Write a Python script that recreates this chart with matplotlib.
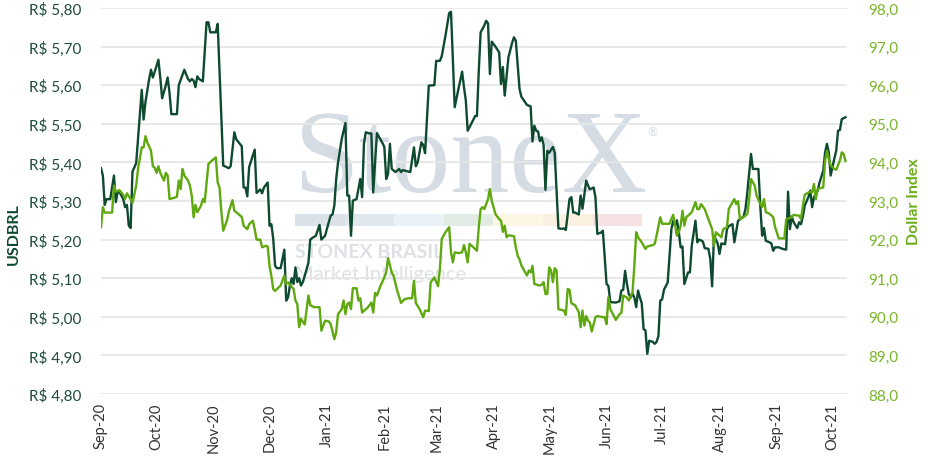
import matplotlib
matplotlib.use("Agg")
import matplotlib.pyplot as plt
import matplotlib.dates as mdates
from matplotlib.patches import Rectangle
from matplotlib.ticker import FuncFormatter, MultipleLocator
import pandas as pd

# USDBRL (left axis)
usd_dates = [
    '2020-09-01', '2020-09-02', '2020-09-03', '2020-09-04', '2020-09-06', '2020-09-08', '2020-09-09', '2020-09-10', '2020-09-11', '2020-09-13',
    '2020-09-14', '2020-09-15', '2020-09-16', '2020-09-17', '2020-09-18', '2020-09-20', '2020-09-23', '2020-09-24', '2020-09-25', '2020-09-27',
    '2020-09-28', '2020-09-29', '2020-10-01', '2020-10-02', '2020-10-03', '2020-10-04', '2020-10-06', '2020-10-07', '2020-10-08', '2020-10-09',
    '2020-10-12', '2020-10-13', '2020-10-16', '2020-10-18', '2020-10-19', '2020-10-20', '2020-10-21', '2020-10-22', '2020-10-23', '2020-10-24',
    '2020-10-26', '2020-10-28', '2020-10-29', '2020-10-30', '2020-11-02', '2020-11-03', '2020-11-06', '2020-11-09', '2020-11-10', '2020-11-12',
    '2020-11-13', '2020-11-16', '2020-11-17', '2020-11-18', '2020-11-19', '2020-11-20', '2020-11-23', '2020-11-24', '2020-11-26', '2020-11-27',
    '2020-11-28', '2020-11-30', '2020-12-01', '2020-12-02', '2020-12-03', '2020-12-04', '2020-12-05', '2020-12-07', '2020-12-09', '2020-12-10',
    '2020-12-11', '2020-12-12', '2020-12-13', '2020-12-14', '2020-12-15', '2020-12-16', '2020-12-17', '2020-12-18', '2020-12-19', '2020-12-20',
    '2020-12-22', '2020-12-23', '2020-12-24', '2020-12-26', '2020-12-28', '2020-12-29', '2020-12-31', '2021-01-01', '2021-01-03', '2021-01-04',
    '2021-01-05', '2021-01-06', '2021-01-07', '2021-01-09', '2021-01-11', '2021-01-12', '2021-01-13', '2021-01-14', '2021-01-15', '2021-01-17',
    '2021-01-19', '2021-01-20', '2021-01-21', '2021-01-22', '2021-01-24', '2021-01-25', '2021-01-26', '2021-01-27', '2021-01-28', '2021-01-31',
    '2021-02-01', '2021-02-02', '2021-02-03', '2021-02-04', '2021-02-05', '2021-02-07', '2021-02-09', '2021-02-10', '2021-02-11', '2021-02-15',
    '2021-02-17', '2021-02-18', '2021-02-19', '2021-02-21', '2021-02-22', '2021-02-23', '2021-02-25', '2021-02-28', '2021-03-01', '2021-03-03',
    '2021-03-04', '2021-03-06', '2021-03-08', '2021-03-09', '2021-03-11', '2021-03-13', '2021-03-15', '2021-03-16', '2021-03-17', '2021-03-18',
    '2021-03-21', '2021-03-22', '2021-03-23', '2021-03-24', '2021-03-25', '2021-03-27', '2021-03-28', '2021-03-29', '2021-03-30', '2021-03-31',
    '2021-04-02', '2021-04-04', '2021-04-05', '2021-04-06', '2021-04-07', '2021-04-09', '2021-04-11', '2021-04-12', '2021-04-13', '2021-04-15',
    '2021-04-16', '2021-04-19', '2021-04-21', '2021-04-22', '2021-04-23', '2021-04-24', '2021-04-25', '2021-04-26', '2021-04-27', '2021-04-28',
    '2021-04-29', '2021-04-30', '2021-05-01', '2021-05-03', '2021-05-04', '2021-05-06', '2021-05-08', '2021-05-09', '2021-05-10', '2021-05-12',
    '2021-05-13', '2021-05-14', '2021-05-15', '2021-05-17', '2021-05-18', '2021-05-19', '2021-05-21', '2021-05-22', '2021-05-23', '2021-05-25',
    '2021-05-26', '2021-05-27', '2021-05-29', '2021-05-30', '2021-06-01', '2021-06-02', '2021-06-03', '2021-06-06', '2021-06-08', '2021-06-09',
    '2021-06-10', '2021-06-11', '2021-06-12', '2021-06-13', '2021-06-14', '2021-06-15', '2021-06-16', '2021-06-17', '2021-06-18', '2021-06-19',
    '2021-06-20', '2021-06-21', '2021-06-22', '2021-06-23', '2021-06-24', '2021-06-26', '2021-06-27', '2021-06-28', '2021-06-29', '2021-06-30',
    '2021-07-01', '2021-07-02', '2021-07-04', '2021-07-06', '2021-07-07', '2021-07-08', '2021-07-09', '2021-07-10', '2021-07-11', '2021-07-12',
    '2021-07-13', '2021-07-15', '2021-07-16', '2021-07-17', '2021-07-19', '2021-07-20', '2021-07-21', '2021-07-22', '2021-07-23', '2021-07-24',
    '2021-07-26', '2021-07-27', '2021-07-28', '2021-07-29', '2021-07-31', '2021-08-01', '2021-08-02', '2021-08-04', '2021-08-05', '2021-08-06',
    '2021-08-08', '2021-08-09', '2021-08-11', '2021-08-12', '2021-08-14', '2021-08-15', '2021-08-16', '2021-08-18', '2021-08-19', '2021-08-22',
    '2021-08-23', '2021-08-24', '2021-08-25', '2021-08-26', '2021-08-28', '2021-08-29', '2021-08-30', '2021-08-31', '2021-09-02', '2021-09-04',
    '2021-09-06', '2021-09-07', '2021-09-08', '2021-09-09', '2021-09-10', '2021-09-12', '2021-09-13', '2021-09-14', '2021-09-15', '2021-09-16',
    '2021-09-18', '2021-09-19', '2021-09-20', '2021-09-21', '2021-09-23', '2021-09-24', '2021-09-26', '2021-09-27', '2021-09-28', '2021-09-29',
    '2021-09-30', '2021-10-02', '2021-10-03', '2021-10-04', '2021-10-05', '2021-10-06', '2021-10-08',
]
usd_vals = [
    5.385, 5.366, 5.290, 5.305, 5.305, 5.366, 5.297, 5.323, 5.323, 5.305,
    5.284, 5.290, 5.236, 5.230, 5.376, 5.398, 5.588, 5.511, 5.556, 5.616,
    5.640, 5.620, 5.650, 5.666, 5.620, 5.566, 5.600, 5.620, 5.580, 5.525,
    5.525, 5.600, 5.640, 5.616, 5.610, 5.616, 5.612, 5.595, 5.623, 5.616,
    5.610, 5.763, 5.763, 5.737, 5.737, 5.759, 5.392, 5.385, 5.390, 5.478,
    5.460, 5.442, 5.335, 5.335, 5.312, 5.388, 5.433, 5.321, 5.330, 5.320,
    5.335, 5.348, 5.236, 5.240, 5.202, 5.132, 5.126, 5.126, 5.174, 5.042,
    5.050, 5.081, 5.100, 5.085, 5.128, 5.090, 5.100, 5.081, 5.090, 5.106,
    5.140, 5.200, 5.204, 5.210, 5.238, 5.200, 5.210, 5.228, 5.262, 5.265,
    5.288, 5.357, 5.400, 5.461, 5.502, 5.314, 5.314, 5.210, 5.301, 5.305,
    5.357, 5.310, 5.450, 5.478, 5.475, 5.475, 5.322, 5.400, 5.476, 5.450,
    5.440, 5.357, 5.370, 5.448, 5.383, 5.375, 5.383, 5.375, 5.380, 5.375,
    5.439, 5.390, 5.400, 5.452, 5.445, 5.424, 5.599, 5.600, 5.663, 5.663,
    5.675, 5.728, 5.787, 5.790, 5.543, 5.590, 5.635, 5.595, 5.560, 5.482,
    5.510, 5.520, 5.520, 5.638, 5.737, 5.755, 5.767, 5.760, 5.629, 5.713,
    5.700, 5.685, 5.603, 5.647, 5.573, 5.672, 5.710, 5.724, 5.715, 5.590,
    5.570, 5.549, 5.545, 5.454, 5.495, 5.482, 5.480, 5.455, 5.465, 5.445,
    5.329, 5.430, 5.425, 5.440, 5.425, 5.229, 5.228, 5.229, 5.225, 5.305,
    5.310, 5.270, 5.270, 5.265, 5.314, 5.280, 5.353, 5.340, 5.330, 5.335,
    5.310, 5.215, 5.218, 5.223, 5.085, 5.080, 5.038, 5.037, 5.040, 5.068,
    5.070, 5.119, 5.085, 5.059, 5.050, 5.060, 5.050, 5.025, 5.068, 5.050,
    5.035, 4.968, 4.965, 4.904, 4.938, 4.935, 4.930, 4.935, 4.950, 5.042,
    5.045, 5.070, 5.089, 5.227, 5.249, 5.236, 5.250, 5.220, 5.180, 5.182,
    5.085, 5.115, 5.115, 5.184, 5.249, 5.193, 5.200, 5.198, 5.195, 5.178,
    5.176, 5.150, 5.079, 5.210, 5.190, 5.163, 5.190, 5.188, 5.227, 5.235,
    5.240, 5.193, 5.249, 5.252, 5.260, 5.279, 5.322, 5.422, 5.383, 5.383,
    5.288, 5.210, 5.230, 5.197, 5.193, 5.190, 5.171, 5.180, 5.180, 5.176,
    5.174, 5.324, 5.227, 5.260, 5.245, 5.230, 5.245, 5.240, 5.260, 5.288,
    5.310, 5.327, 5.284, 5.310, 5.327, 5.348, 5.378, 5.426, 5.448, 5.426,
    5.366, 5.410, 5.430, 5.482, 5.484, 5.512, 5.517,
]

# Dollar Index (right axis)
dxy_dates = [
    '2020-09-01', '2020-09-02', '2020-09-03', '2020-09-07', '2020-09-08', '2020-09-09', '2020-09-10', '2020-09-11', '2020-09-13', '2020-09-14',
    '2020-09-15', '2020-09-17', '2020-09-18', '2020-09-20', '2020-09-21', '2020-09-23', '2020-09-24', '2020-09-25', '2020-09-26', '2020-09-28',
    '2020-09-29', '2020-09-30', '2020-10-01', '2020-10-02', '2020-10-03', '2020-10-05', '2020-10-06', '2020-10-07', '2020-10-08', '2020-10-11',
    '2020-10-12', '2020-10-13', '2020-10-14', '2020-10-15', '2020-10-16', '2020-10-18', '2020-10-19', '2020-10-20', '2020-10-21', '2020-10-22',
    '2020-10-23', '2020-10-25', '2020-10-26', '2020-10-27', '2020-10-29', '2020-10-31', '2020-11-02', '2020-11-03', '2020-11-04', '2020-11-05',
    '2020-11-06', '2020-11-08', '2020-11-09', '2020-11-11', '2020-11-12', '2020-11-14', '2020-11-16', '2020-11-17', '2020-11-19', '2020-11-20',
    '2020-11-22', '2020-11-23', '2020-11-24', '2020-11-26', '2020-11-27', '2020-11-29', '2020-11-30', '2020-12-01', '2020-12-02', '2020-12-03',
    '2020-12-04', '2020-12-07', '2020-12-08', '2020-12-09', '2020-12-10', '2020-12-11', '2020-12-14', '2020-12-15', '2020-12-16', '2020-12-17',
    '2020-12-18', '2020-12-20', '2020-12-22', '2020-12-23', '2020-12-25', '2020-12-28', '2020-12-29', '2020-12-31', '2021-01-02', '2021-01-03',
    '2021-01-05', '2021-01-06', '2021-01-07', '2021-01-09', '2021-01-10', '2021-01-11', '2021-01-12', '2021-01-13', '2021-01-14', '2021-01-15',
    '2021-01-17', '2021-01-18', '2021-01-19', '2021-01-20', '2021-01-23', '2021-01-25', '2021-01-26', '2021-01-27', '2021-01-28', '2021-01-30',
    '2021-02-01', '2021-02-02', '2021-02-03', '2021-02-05', '2021-02-06', '2021-02-08', '2021-02-10', '2021-02-12', '2021-02-14', '2021-02-16',
    '2021-02-17', '2021-02-18', '2021-02-20', '2021-02-22', '2021-02-23', '2021-02-25', '2021-02-26', '2021-02-28', '2021-03-02', '2021-03-03',
    '2021-03-04', '2021-03-06', '2021-03-08', '2021-03-09', '2021-03-10', '2021-03-11', '2021-03-13', '2021-03-15', '2021-03-16', '2021-03-17',
    '2021-03-18', '2021-03-19', '2021-03-22', '2021-03-23', '2021-03-24', '2021-03-25', '2021-03-26', '2021-03-27', '2021-03-28', '2021-03-29',
    '2021-03-30', '2021-03-31', '2021-04-01', '2021-04-02', '2021-04-04', '2021-04-05', '2021-04-06', '2021-04-07', '2021-04-08', '2021-04-09',
    '2021-04-12', '2021-04-13', '2021-04-14', '2021-04-15', '2021-04-16', '2021-04-19', '2021-04-20', '2021-04-21', '2021-04-22', '2021-04-23',
    '2021-04-26', '2021-04-27', '2021-04-28', '2021-04-29', '2021-04-30', '2021-05-01', '2021-05-02', '2021-05-03', '2021-05-04', '2021-05-05',
    '2021-05-06', '2021-05-09', '2021-05-10', '2021-05-11', '2021-05-12', '2021-05-13', '2021-05-15', '2021-05-17', '2021-05-18', '2021-05-19',
    '2021-05-20', '2021-05-21', '2021-05-22', '2021-05-23', '2021-05-24', '2021-05-26', '2021-05-27', '2021-05-30', '2021-05-31', '2021-06-01',
    '2021-06-02', '2021-06-03', '2021-06-04', '2021-06-06', '2021-06-08', '2021-06-09', '2021-06-10', '2021-06-12', '2021-06-13', '2021-06-15',
    '2021-06-16', '2021-06-17', '2021-06-18', '2021-06-20', '2021-06-22', '2021-06-23', '2021-06-26', '2021-06-27', '2021-06-28', '2021-06-30',
    '2021-07-01', '2021-07-03', '2021-07-05', '2021-07-06', '2021-07-07', '2021-07-08', '2021-07-09', '2021-07-10', '2021-07-11', '2021-07-12',
    '2021-07-13', '2021-07-14', '2021-07-15', '2021-07-17', '2021-07-19', '2021-07-20', '2021-07-21', '2021-07-22', '2021-07-24', '2021-07-25',
    '2021-07-27', '2021-07-28', '2021-07-29', '2021-07-30', '2021-07-31', '2021-08-02', '2021-08-03', '2021-08-05', '2021-08-06', '2021-08-07',
    '2021-08-09', '2021-08-10', '2021-08-11', '2021-08-12', '2021-08-14', '2021-08-16', '2021-08-17', '2021-08-18', '2021-08-20', '2021-08-21',
    '2021-08-23', '2021-08-24', '2021-08-25', '2021-08-26', '2021-08-28', '2021-08-30', '2021-08-31', '2021-09-02', '2021-09-05', '2021-09-06',
    '2021-09-09', '2021-09-10', '2021-09-13', '2021-09-14', '2021-09-15', '2021-09-16', '2021-09-18', '2021-09-19', '2021-09-20', '2021-09-21',
    '2021-09-22', '2021-09-23', '2021-09-24', '2021-09-26', '2021-09-27', '2021-09-28', '2021-09-29', '2021-09-30', '2021-10-02', '2021-10-03',
    '2021-10-05', '2021-10-06', '2021-10-07', '2021-10-08',
]
dxy_vals = [
    92.32, 92.84, 92.70, 92.70, 93.40, 93.24, 93.26, 93.28, 93.16, 93.05,
    93.20, 93.05, 92.95, 93.40, 93.83, 94.39, 94.39, 94.68, 94.52, 94.30,
    93.90, 93.86, 93.73, 93.90, 93.73, 93.53, 93.73, 93.66, 93.05, 93.09,
    93.11, 93.53, 93.31, 93.83, 93.66, 93.53, 93.40, 93.14, 92.58, 92.90,
    92.71, 92.88, 93.05, 92.97, 93.96, 94.05, 94.13, 93.48, 93.35, 92.71,
    92.23, 92.49, 92.72, 93.02, 92.75, 92.67, 92.59, 92.36, 92.27, 92.40,
    92.49, 92.27, 92.00, 92.00, 91.80, 91.84, 91.82, 91.32, 91.06, 90.72,
    90.67, 90.81, 90.94, 91.07, 90.85, 90.89, 90.72, 90.42, 90.33, 89.73,
    89.95, 89.80, 90.55, 90.30, 90.25, 90.25, 89.64, 89.90, 89.88, 89.82,
    89.42, 89.60, 90.07, 90.20, 90.42, 90.07, 90.33, 90.37, 90.20, 90.74,
    90.74, 90.42, 90.48, 90.11, 90.24, 90.37, 90.11, 90.62, 90.55, 90.81,
    91.02, 91.15, 91.52, 91.15, 91.06, 90.67, 90.36, 90.46, 90.48, 90.48,
    90.93, 90.36, 90.20, 89.99, 90.16, 90.15, 90.89, 91.02, 90.79, 91.24,
    92.02, 92.19, 92.32, 91.67, 91.41, 91.67, 91.65, 91.67, 91.86, 91.67,
    91.41, 91.89, 91.76, 91.71, 92.32, 92.79, 92.84, 92.79, 92.92, 93.05,
    93.31, 93.00, 92.84, 92.66, 92.53, 92.49, 92.20, 92.36, 92.06, 92.11,
    92.09, 91.80, 91.58, 91.49, 91.33, 91.07, 91.20, 91.15, 91.32, 90.85,
    90.81, 90.83, 90.90, 90.59, 90.59, 91.28, 91.20, 90.90, 91.26, 91.20,
    90.20, 90.16, 90.05, 90.72, 90.70, 90.35, 90.30, 90.12, 89.73, 90.16,
    89.77, 90.02, 89.90, 89.85, 89.62, 89.99, 90.02, 89.99, 89.99, 89.81,
    90.51, 90.20, 90.11, 89.92, 90.07, 90.10, 90.55, 90.50, 90.42, 90.63,
    91.32, 92.19, 92.06, 91.93, 91.76, 91.82, 91.86, 91.89, 92.10, 92.58,
    92.41, 92.41, 92.41, 92.54, 92.64, 92.36, 92.10, 92.19, 92.36, 92.75,
    92.36, 92.58, 92.62, 92.71, 92.97, 92.79, 92.79, 92.92, 92.79, 92.66,
    92.40, 92.27, 91.84, 92.19, 92.15, 92.06, 92.27, 92.32, 92.79, 92.88,
    93.05, 92.92, 93.00, 92.53, 92.58, 92.66, 93.05, 93.57, 93.40, 93.14,
    92.92, 92.84, 93.05, 92.71, 92.67, 92.58, 92.32, 92.03, 92.03, 92.53,
    92.58, 92.64, 92.62, 92.53, 92.88, 93.16, 93.22, 93.24, 93.22, 93.44,
    93.05, 93.31, 93.33, 93.35, 94.04, 94.30, 94.09, 93.92, 93.83, 93.81,
    94.05, 94.26, 94.22, 94.04,
]

usd_color = '#0e4a30'
dxy_color = '#5fa80f'
font = 'Lato'

fig = plt.figure(figsize=(9.29, 4.60), dpi=100)
ax = fig.add_axes([101 / 929, 1 - 395 / 460, 746 / 929, 386 / 460])
ax2 = ax.twinx()

# watermark behind the lines
wm = '#d6dce4'
ax.text(0.258, 0.526, 'StoneX', transform=ax.transAxes, family='Liberation Serif',
        fontsize=85, color=wm, va='baseline', ha='left', zorder=0)
ax.text(0.731, 0.68, '®', transform=ax.transAxes, family='DejaVu Sans',
        fontsize=9, color=wm, va='center', ha='left', zorder=0)
band_colors = ['#dbe1e9', '#e0e7ef', '#e9f1f9', '#e2ece5', '#fcf7e5', '#fcf0e1', '#f6e2e2']
for i, c in enumerate(band_colors):
    ax.add_patch(Rectangle((0.26 + i * 0.0665, 0.435), 0.0665, 0.031, transform=ax.transAxes,
                           facecolor=c, edgecolor='none', zorder=0))
ax.text(0.26, 0.368, 'STONEX BRASIL', transform=ax.transAxes, family=font, fontweight='bold',
        fontsize=14, color='#dde1e6', va='center', ha='left', zorder=0)
ax.text(0.26, 0.313, 'Market Intelligence', transform=ax.transAxes, family=font,
        fontsize=14.5, color='#dde1e6', va='center', ha='left', zorder=0)

ax.plot(pd.to_datetime(usd_dates), usd_vals, color=usd_color, lw=1.7, zorder=3)
ax2.plot(pd.to_datetime(dxy_dates), dxy_vals, color=dxy_color, lw=1.7, zorder=3)

ax.set_xlim(pd.Timestamp('2020-09-01'), pd.Timestamp('2021-10-08 20:00'))
ax.set_ylim(4.80, 5.80)
ax2.set_ylim(88.0, 98.0)
ax.yaxis.set_major_locator(MultipleLocator(0.1))
ax2.yaxis.set_major_locator(MultipleLocator(1.0))
ax.yaxis.set_major_formatter(FuncFormatter(lambda v, p: 'R$ ' + f'{v:.2f}'.replace('.', ',')))
ax2.yaxis.set_major_formatter(FuncFormatter(lambda v, p: f'{v:.1f}'.replace('.', ',')))

ax.xaxis.set_major_locator(mdates.MonthLocator())
ax.xaxis.set_major_formatter(mdates.DateFormatter('%b-%y'))

ax.grid(axis='y', color='#e6e6e6', lw=1.3, zorder=1)
ax.set_axisbelow(True)
for a in (ax, ax2):
    for s in a.spines.values():
        s.set_visible(False)
    a.tick_params(length=0)

ax.tick_params(axis='y', labelsize=11, labelcolor='#1f4d3c', pad=14)
ax2.tick_params(axis='y', labelsize=11, labelcolor='#7ab52a', pad=15)
ax.tick_params(axis='x', labelsize=10.5, labelcolor='#333333', labelrotation=90, pad=6)
for lab in ax.get_xticklabels() + ax.get_yticklabels() + ax2.get_yticklabels():
    lab.set_family(font)

ax.set_ylabel('USDBRL', family=font, fontweight='bold', fontsize=11.5, color=usd_color)
ax.yaxis.set_label_coords(-0.108, 0.417)
ax2.set_ylabel('Dollar Index', family=font, fontweight='bold', fontsize=11.5, color='#6aae1c')
ax2.yaxis.set_label_coords(1.081, 0.5)

fig.savefig('out.png', dpi=100)
